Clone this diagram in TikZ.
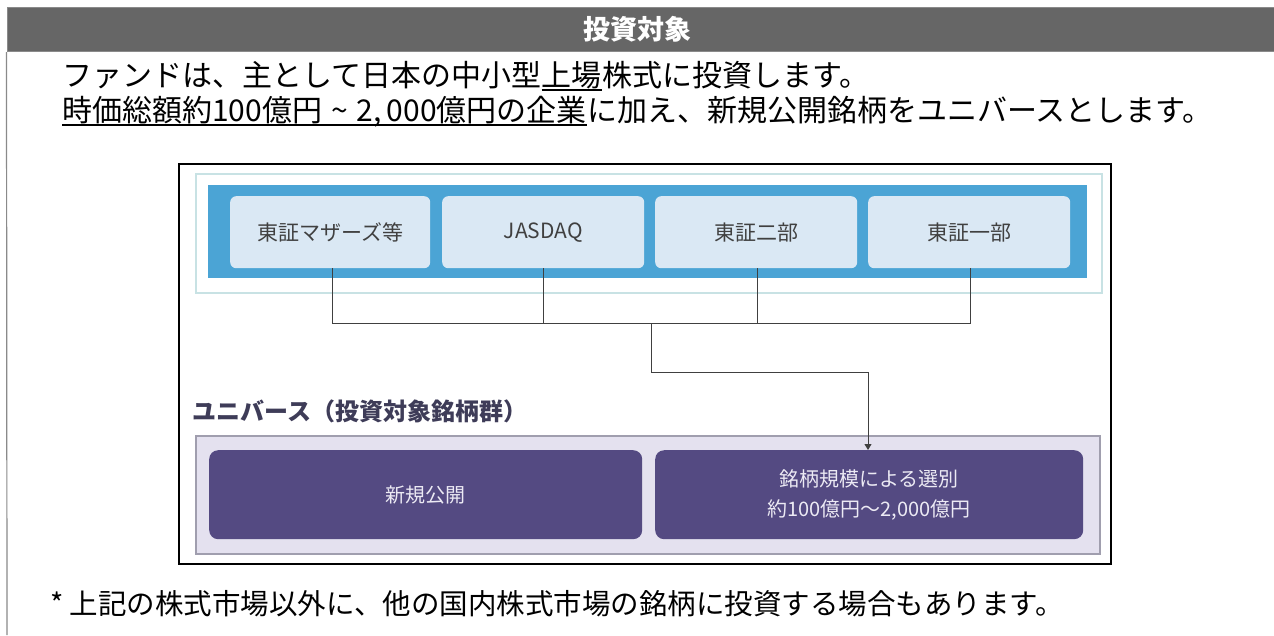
\documentclass[tikz,border=0pt]{standalone}
\usepackage{fontspec}
\setmainfont{Noto Sans CJK JP}
\usetikzlibrary{arrows.meta}
\definecolor{hdr}{HTML}{666666}
\definecolor{hdrline}{HTML}{8A8A8A}
\definecolor{bandblue}{HTML}{4BA4D5}
\definecolor{boxblue}{HTML}{DAE8F4}
\definecolor{boxtext}{HTML}{404040}
\definecolor{lav}{HTML}{E4E1EF}
\definecolor{lavline}{HTML}{A09EAE}
\definecolor{purp}{HTML}{544A82}
\definecolor{purptext}{HTML}{ECEAF4}
\definecolor{unitext}{HTML}{3E3C58}
\definecolor{tealline}{HTML}{C8E2E4}
\tikzset{
  market/.style={draw=none, fill=boxblue, rounded corners=6pt, text=boxtext, font=\fontsize{21}{24}\selectfont, inner sep=0pt},
  uni/.style={draw=none, fill=purp, rounded corners=9pt, text=purptext, font=\fontsize{20}{30}\selectfont, inner sep=0pt, align=center},
  body/.style={inner sep=0pt, font=\fontsize{30}{34}\selectfont},
  conn/.style={draw=black!75, line width=1pt},
  ul/.style={draw=black, line width=1.2pt}
}
\begin{document}
\begin{tikzpicture}[x=1pt,y=-1pt]
\useasboundingbox (0,0) rectangle (1274,635);
\fill[white] (0,0) rectangle (1274,635);
% header
\node[draw=hdrline, fill=hdr, line width=1pt, minimum width=1268pt, minimum height=44pt, inner sep=0pt, anchor=north west] (hdr) at (6.5,7) {};
\node[text=white, font=\fontsize{27}{30}\selectfont\bfseries] (hdrtxt) at (637,29) {投資対象};
\draw[draw=hdrline, line width=1.2pt] (hdr.south west) -- (7,635);
% body text line 1
\node[body, anchor=base west] (l1a) at (62,86) {ファンドは、主として日本の中小型};
\node[body, anchor=base west] (l1b) at (l1a.base east) {上場};
\node[body, anchor=base west] (l1c) at (l1b.base east) {株式に投資します。};
\draw[ul] ([yshift=-4pt]l1b.base west) -- ([yshift=-4pt]l1b.base east);
% body text line 2
\node[body, anchor=base west] (l2a) at (62,121) {時価総額約100億円\hspace{9pt}\textasciitilde\hspace{9pt}2,\,000億円の企業};
\node[body, anchor=base west] (l2b) at (l2a.base east) {に加え、新規公開銘柄をユニバースとします。};
\draw[ul] ([yshift=-4pt]l2a.base west) -- ([yshift=-4pt]l2a.base east);
% diagram frame
\node[draw=black, line width=2pt, minimum width=932pt, minimum height=400pt, inner sep=0pt, anchor=north west] (frame) at (178,163) {};
\node[draw=tealline, line width=1.5pt, minimum width=906pt, minimum height=119pt, inner sep=0pt, anchor=north west] (tframe) at (195,173) {};
\node[fill=bandblue, minimum width=879pt, minimum height=93pt, inner sep=0pt, anchor=north west] (band) at (208,185) {};
\node[market, minimum width=200pt, minimum height=72pt, anchor=north west] (m1) at (230,196) {東証マザーズ等};
\node[market, minimum width=202pt, minimum height=72pt, anchor=north west] (m2) at (442,196) {JASDAQ};
\node[market, minimum width=202pt, minimum height=72pt, anchor=north west] (m3) at (655,196) {東証二部};
\node[market, minimum width=202pt, minimum height=72pt, anchor=north west] (m4) at (868,196) {東証一部};
% connectors
\coordinate (j1) at (332,323);
\coordinate (j2) at (543,323);
\coordinate (j3) at (757,323);
\coordinate (j4) at (970,323);
\coordinate (jm) at (651,323);
\coordinate (jb) at (651,372);
\coordinate (jc) at (868,372);
\draw[conn] (m1.south -| j1) -- (j1) -- (j4) -- (m4.south -| j4);
\draw[conn] (m2.south -| j2) -- (j2);
\draw[conn] (m3.south -| j3) -- (j3);
% universe
\node[anchor=west, inner sep=0pt, text=unitext, font=\fontsize{24}{28}\selectfont\bfseries] (unilbl) at (192,411) {ユニバース（投資対象銘柄群）};
\node[draw=lavline, fill=lav, line width=1.5pt, minimum width=904pt, minimum height=118pt, inner sep=0pt, anchor=north west] (lframe) at (195,435) {};
\node[uni, minimum width=433pt, minimum height=89pt, anchor=north west] (u1) at (209,450) {新規公開};
\node[uni, minimum width=428pt, minimum height=89pt, anchor=north west] (u2) at (655,450) {銘柄規模による選別\\約100億円～2,000億円};
\draw[conn, -{Triangle[length=6pt,width=7pt]}] (jm) -- (jb) -- (jc) -- (u2.north -| jc);
% footer
\node[body, anchor=west, font=\fontsize{28.5}{32}\selectfont] (foot) at (50,604) {* 上記の株式市場以外に、他の国内株式市場の銘柄に投資する場合もあります。};
\end{tikzpicture}
\end{document}
